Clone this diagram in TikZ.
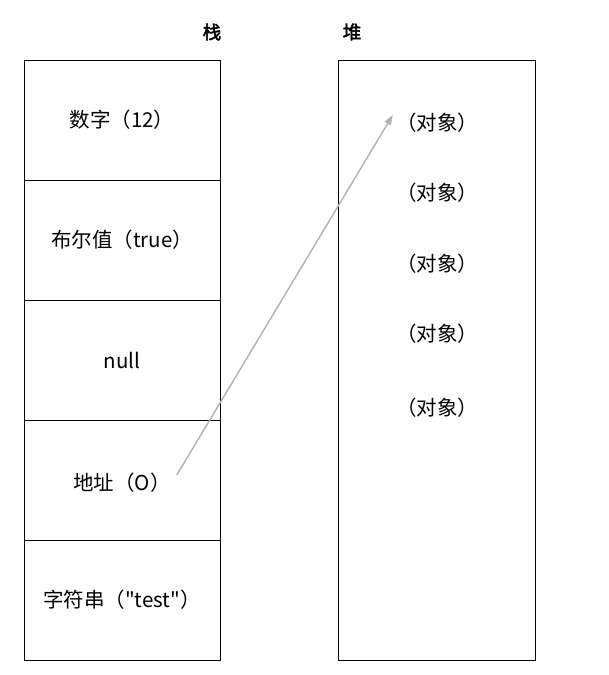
\documentclass[tikz,border=0pt]{standalone}
\usepackage{fontspec}
\setmainfont{Noto Sans CJK SC}
\newfontfamily\boldcjk[FakeBold=2.5]{Noto Sans CJK SC}
\usetikzlibrary{arrows.meta,positioning,calc}

\begin{document}
\begin{tikzpicture}[x=1pt, y=-1pt, >={Triangle[length=10pt,width=7pt]},
    every node/.style={font=\fontsize{20.5}{23}\selectfont},
    cell/.style={draw, line width=1pt, minimum width=196pt, minimum height=120pt, inner sep=0pt},
    obj/.style={inner sep=1pt},
    ptr/.style={->, draw=black!30, line width=1.4pt}]
  \useasboundingbox (0,0) rectangle (609,675);
  % stack
  \node[cell] (s1) at (122,120) {数字（12）};
  \node[cell, below=-1pt of s1] (s2) {布尔值（true）};
  \node[cell, below=-1pt of s2] (s3) {null};
  \node[cell, below=-1pt of s3] (s4) {};
  \node[cell, below=-1pt of s4] (s5) {字符串（\textquotedbl test\textquotedbl）};
  \node[inner sep=1pt] (addr) at ($(s4.center)+(0,3)$) {地址（O）};
  \node[font=\fontsize{18.5}{20}\boldcjk] (stk) at (212,32) {栈};
  % heap
  \node[cell, minimum height=600pt, minimum width=197pt] (heap) at (436.5,360) {};
  \node[font=\fontsize{18.5}{20}\boldcjk] (hp) at (352,32) {堆};
  \node[obj] (o1) at (437,123) {（对象）};
  \node[obj] (o2) at (437,193) {（对象）};
  \node[obj] (o3) at (437,264) {（对象）};
  \node[obj] (o4) at (437,334) {（对象）};
  \node[obj] (o5) at (437,408) {（对象）};
  % reference
  \draw[ptr] ($(addr.east)+(5,-8)$) -- ($(o1.west)+(-2,-8)$);
\end{tikzpicture}
\end{document}
